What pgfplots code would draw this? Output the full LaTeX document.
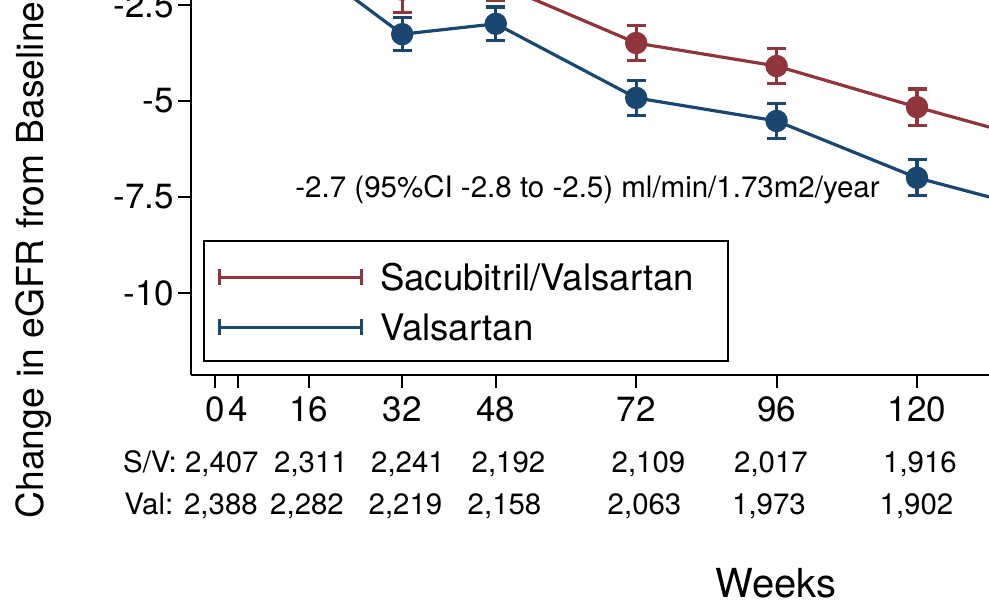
\documentclass[border=0pt]{standalone}
\usepackage{fontspec}
\setmainfont{TeX Gyre Heros}
\usepackage{pgfplots}
\usepackage{pgfplotstable}
\pgfplotsset{compat=1.18}

\definecolor{svred}{RGB}{144,53,59}
\definecolor{valblue}{RGB}{26,71,111}

% week, mean change in eGFR, half width of 95% CI
\pgfplotstableread{
week mean err
0    0.00  0.00
4   -0.50  0.15
16  -1.45  0.30
32  -3.26  0.43
48  -2.99  0.44
72  -4.92  0.45
96  -5.52  0.46
120 -7.00  0.47
144 -7.97  0.50
}\valtab

\pgfplotstableread{
week mean err
0    0.00  0.00
4   -0.40  0.15
16  -1.30  0.30
32  -2.10  0.60
48  -1.93  0.44
72  -3.49  0.45
96  -4.09  0.46
120 -5.16  0.47
144 -6.17  0.50
}\svtab

\begin{document}
\begin{tikzpicture}
\begin{axis}[
  x=2.925pt, y=19.2pt,
  xmin=-4.1, xmax=132.308,
  ymin=-12.135, ymax=-2.3698,
  clip=false,
  axis lines*=left,
  axis line style={line width=1.2pt, -},
  xtick={0,4,16,32,48,72,96,120},
  xticklabels={0,4,16,32,48,72,96,120},
  ytick={-10,-7.5,-5,-2.5},
  yticklabels={-10,-7.5,-5,-2.5},
  tick align=outside,
  major tick length=6.5pt,
  tick style={line width=1pt, black},
  tick label style={font=\fontsize{17.5}{17.5}\selectfont, inner sep=0pt},
  xticklabel style={anchor=base, yshift=-17pt},
  yticklabel style={anchor=east, xshift=-1.8pt},
  % legend: error-bar glyph, box drawn below
  legend image code/.code={
    \draw[#1, line width=1.5pt] (0pt,0pt) -- (71pt,0pt);
    \draw[#1, line width=1.5pt] (0pt,-4pt) -- (0pt,4pt);
    \draw[#1, line width=1.5pt] (71pt,-4pt) -- (71pt,4pt);
  },
  reverse legend,
  legend style={
    at={(axis cs:0.513,-9.240)}, anchor=north west,
    draw=none, fill=none, inner sep=0pt, outer sep=0pt,
    row sep=11.8pt,
    font=\fontsize{18.3}{18.3}\selectfont,
    nodes={inner sep=0pt, text height=13.2pt, text depth=0pt},
    cells={anchor=west},
    /tikz/every odd column/.append style={column sep=8.5pt},
  },
  every axis plot/.append style={
    line width=1.6pt, mark=*, mark size=4.8pt,
    /pgfplots/error bars/y dir=both,
    /pgfplots/error bars/y explicit,
    /pgfplots/error bars/error bar style={line width=1.6pt, solid},
    /pgfplots/error bars/error mark options={rotate=90, mark size=4.75pt, line width=1.6pt},
  },
]

% Valsartan
\addplot[color=valblue, mark options={fill=valblue, draw=none}]
  table[x=week, y=mean, y error=err] {\valtab};
\addlegendentry{Valsartan}

% Sacubitril/Valsartan
\addplot[color=svred, mark options={fill=svred, draw=none}]
  table[x=week, y=mean, y error=err] {\svtab};
\addlegendentry{Sacubitril/Valsartan}

% legend frame
\draw[line width=1pt] (axis cs:-1.880,-8.646) rectangle (axis cs:87.69,-11.771);

% slope annotation
\node[anchor=base, font=\fontsize{14.75}{14.75}\selectfont]
  at (axis cs:63.68,-7.526) {-2.7 (95\%CI -2.8 to -2.5) ml/min/1.73m2/year};

% numbers at risk
\begin{scope}[every node/.style={anchor=base, font=\fontsize{14.7}{14.7}\selectfont}]
  \node[anchor=base west] at (axis cs:-16.9,-14.6875) {S/V: 2,407};
  \node at (axis cs:16.41,-14.6875) {2,311};
  \node at (axis cs:32.99,-14.6875) {2,241};
  \node at (axis cs:50.17,-14.6875) {2,192};
  \node at (axis cs:74.10,-14.6875) {2,109};
  \node at (axis cs:95.04,-14.6875) {2,017};
  \node at (axis cs:120.51,-14.6875) {1,916};
  \node[anchor=base west] at (axis cs:-16.7,-15.781) {Val: 2,388};
  \node at (axis cs:15.73,-15.781) {2,282};
  \node at (axis cs:32.56,-15.781) {2,219};
  \node at (axis cs:49.49,-15.781) {2,158};
  \node at (axis cs:73.42,-15.781) {2,063};
  \node at (axis cs:94.70,-15.781) {1,973};
  \node at (axis cs:119.91,-15.781) {1,902};
\end{scope}

% axis titles
\node[rotate=90, anchor=base west, font=\fontsize{18.6}{18.6}\selectfont]
  at (axis cs:-29.40,-16.05) {Change in eGFR from Baseline};
\node[anchor=base, font=\fontsize{20}{20}\selectfont]
  at (axis cs:95.9,-17.917) {Weeks};

% visible region of the figure
\coordinate (bl) at (axis cs:-36.752,-18.281);
\coordinate (tr) at (axis cs:132.308,-2.3698);
\end{axis}
\pgfresetboundingbox
\useasboundingbox (bl) rectangle (tr);
\end{tikzpicture}
\end{document}
